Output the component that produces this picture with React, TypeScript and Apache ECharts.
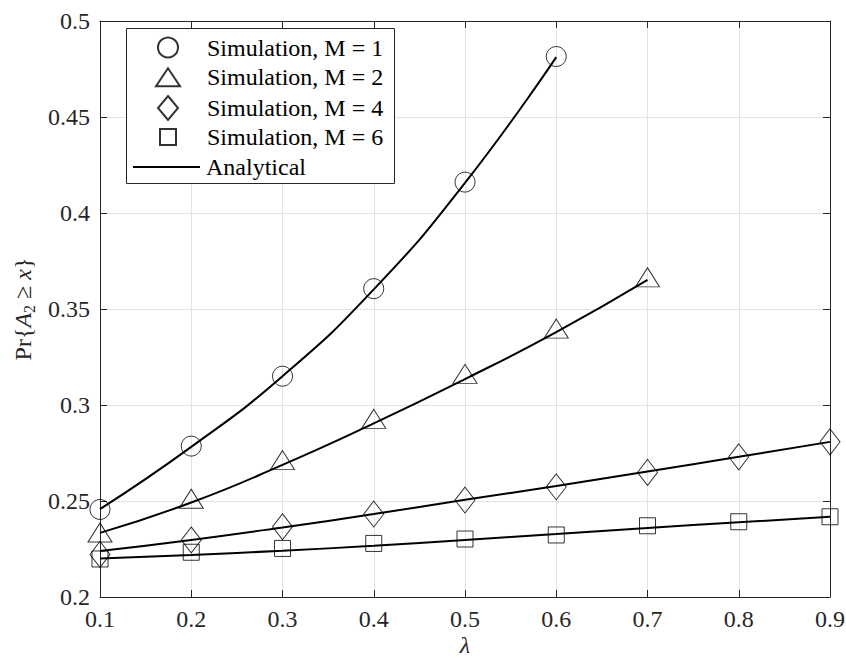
import React, { useEffect, useRef } from "react";
import * as echarts from "echarts";

const lambdaLong = [0.1, 0.2, 0.3, 0.4, 0.5, 0.6, 0.7, 0.8, 0.9];
const lambdaM1 = [0.1, 0.2, 0.3, 0.4, 0.5, 0.6];
const lambdaM2 = [0.1, 0.2, 0.3, 0.4, 0.5, 0.6, 0.7];

const simM1 = [0.2456, 0.2786, 0.315, 0.3606, 0.4161, 0.4815];
const simM2 = [0.2336, 0.2512, 0.2713, 0.2928, 0.3162, 0.3398, 0.3665];
const simM4 = [0.2222, 0.2297, 0.2366, 0.2432, 0.2505, 0.2574, 0.2649, 0.273, 0.2808];
const simM6 = [0.2198, 0.2233, 0.2253, 0.2279, 0.2302, 0.2323, 0.2371, 0.2392, 0.2418];

const anaM1 = [0.2458, 0.2782, 0.315, 0.3602, 0.4157, 0.4812];
const anaM2 = [0.2334, 0.2492, 0.2688, 0.2904, 0.3135, 0.338, 0.3652];
const anaM4 = [0.2239, 0.2297, 0.2362, 0.2432, 0.2506, 0.2578, 0.2654, 0.273, 0.2808];
const anaM6 = [0.22, 0.2219, 0.2241, 0.2267, 0.2297, 0.2328, 0.236, 0.2389, 0.2418];

const yTicks = [0.2, 0.25, 0.3, 0.35, 0.4, 0.45, 0.5];
const xTicks = [0.1, 0.2, 0.3, 0.4, 0.5, 0.6, 0.7, 0.8, 0.9];

const simNames = [
  "Simulation, M = 1",
  "Simulation, M = 2",
  "Simulation, M = 4",
  "Simulation, M = 6",
];
const anaName = "Analytical";

const FONT = "'Liberation Serif', 'Times New Roman', serif";
const AX = "#262626";

function pairs(xs: number[], ys: number[]) {
  return xs.map((x, i) => [x, ys[i]]);
}

export default function App() {
  const ref = useRef<HTMLDivElement>(null);
  useEffect(() => {
    document.body.style.margin = "0";
    const chart = echarts.init(ref.current!, null, { renderer: "svg" });
    const markerStyle = { color: "transparent", borderColor: "#000", borderWidth: 1 };
    const sims = [
      { x: lambdaM1, y: simM1, symbol: "circle", size: [20, 20] },
      { x: lambdaM2, y: simM2, symbol: "triangle", size: [24, 19] },
      { x: lambdaLong, y: simM4, symbol: "diamond", size: [20, 26] },
      { x: lambdaLong, y: simM6, symbol: "rect", size: [16, 16] },
    ];
    const anas = [
      [lambdaM1, anaM1],
      [lambdaM2, anaM2],
      [lambdaLong, anaM4],
      [lambdaLong, anaM6],
    ];
    const axisCommon = {
      type: "value" as const,
      axisLine: { show: true, lineStyle: { color: AX, width: 1 } },
      axisTick: { show: true, inside: true, length: 7, lineStyle: { color: AX } },
    };
    const labelStyle = {
      fontFamily: FONT,
      fontSize: 24,
      color: AX,
    };
    // legend rows: [name, iconW, iconH, rowCenterY, icon]
    const legendRows: [string, number, number, number, string | undefined][] = [
      [simNames[0], 20, 20, 47.5, undefined],
      [simNames[1], 24, 18, 77.3, undefined],
      [simNames[2], 20, 24, 107, undefined],
      [simNames[3], 16, 16, 137, undefined],
      [anaName, 67, 2, 167, "rect"],
    ];
    const legends = legendRows.map(([name, w, h, cy, icon]) => {
      const left = icon ? 133 : 167 - w / 2;
      const pad = 206 - 5 - (left + w);
      return {
        orient: "vertical",
        left,
        top: cy - 12,
        padding: 0,
        itemWidth: w,
        itemHeight: h,
        selectedMode: false,
        z: 20,
        data: [
          icon
            ? { name, icon, itemStyle: { color: "#000", borderWidth: 0 } }
            : { name },
        ],
        textStyle: {
          fontFamily: FONT,
          fontSize: 24,
          color: "#000",
          lineHeight: 24,
          padding: [0, 0, 0, pad],
        },
      };
    });
    chart.setOption({
      animation: false,
      textStyle: { fontFamily: FONT, fontSize: 24, color: AX },
      grid: { left: 100, right: 16, top: 21, bottom: 63, outerBoundsMode: "none" },
      graphic: [
        {
          type: "rect",
          z: 10,
          shape: { x: 126.5, y: 28.5, width: 268, height: 155 },
          style: { fill: "#fff", stroke: AX, lineWidth: 1 },
        },
      ],
      legend: legends,
      xAxis: [
        {
          ...axisCommon,
          min: xTicks[0],
          max: xTicks[xTicks.length - 1],
          interval: 0.1,
          position: "bottom",
          name: "λ",
          nameLocation: "middle",
          nameGap: 36,
          nameMoveOverlap: false,
          nameTextStyle: {
            fontFamily: FONT,
            fontSize: 24,
            lineHeight: 24,
            fontStyle: "italic",
            color: AX,
          },
          axisLabel: { ...labelStyle, lineHeight: 22, margin: 11 },
          splitLine: { show: true, lineStyle: { color: "#e3e3e3", width: 1 } },
        },
        {
          ...axisCommon,
          min: xTicks[0],
          max: xTicks[xTicks.length - 1],
          interval: 0.1,
          position: "top",
          axisLabel: { show: false },
          splitLine: { show: false },
        },
      ],
      yAxis: [
        {
          ...axisCommon,
          min: yTicks[0],
          max: yTicks[yTicks.length - 1],
          interval: 0.05,
          position: "left",
          name: "Pr{{i|A}{s|2} ≥ {i|x}}",
          nameLocation: "middle",
          nameGap: 63,
          nameMoveOverlap: false,
          nameTextStyle: {
            fontFamily: FONT,
            fontSize: 24,
            color: AX,
            rich: {
              i: { fontFamily: FONT, fontSize: 24, fontStyle: "italic", color: AX },
              s: { fontFamily: FONT, fontSize: 16, color: AX, padding: [12, 0, 0, 0] },
            },
          },
          axisLabel: { ...labelStyle, margin: 10 },
          splitLine: { show: true, lineStyle: { color: "#e3e3e3", width: 1 } },
        },
        {
          ...axisCommon,
          min: yTicks[0],
          max: yTicks[yTicks.length - 1],
          interval: 0.05,
          position: "right",
          axisLabel: { show: false },
          splitLine: { show: false },
        },
      ],
      series: [
        ...anas.map(([xs, ys]) => ({
          type: "line",
          name: anaName,
          data: pairs(xs, ys),
          smooth: true,
          showSymbol: false,
          symbol: "none",
          lineStyle: { color: "#000", width: 2 },
          itemStyle: { color: "#000" },
          z: 2,
        })),
        ...sims.map((s, i) => ({
          type: "scatter",
          name: simNames[i],
          data: pairs(s.x, s.y),
          symbol: s.symbol,
          symbolSize: s.size,
          itemStyle: markerStyle,
          z: 3,
        })),
      ],
    });
    return () => chart.dispose();
  }, []);
  return <div ref={ref} style={{ width: 846, height: 660 }} />;
}
